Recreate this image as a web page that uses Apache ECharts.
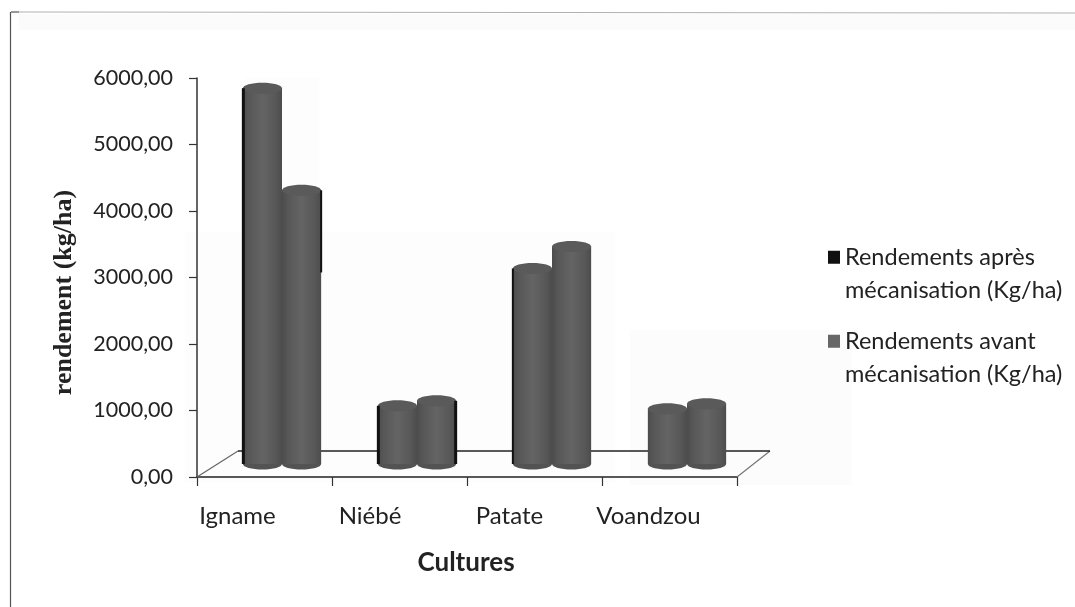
<!DOCTYPE html>
<html lang="fr">
<head>
<meta charset="utf-8">
<title>Rendements par culture</title>
<script src="https://cdn.jsdelivr.net/npm/echarts@6/dist/echarts.min.js"></script>
<style>html,body{margin:0;padding:0;background:#fff}#chart{width:1075px;height:607px}</style>
</head>
<body>
<div id="chart"></div>
<script>
// Yields per crop, in kg/ha
const cultures = ['Igname', 'Niébé', 'Patate', 'Voandzou'];
const rendementsApres = [5650, 875, 2940, 830];
const rendementsAvant = [4115, 950, 3270, 905];
const yTicks = [0, 1000, 2000, 3000, 4000, 5000, 6000];

const nomApres = 'Rendements après\nmécanisation (Kg/ha)';
const nomAvant = 'Rendements avant\nmécanisation (Kg/ha)';

// Horizontal nudge of each crop label under its band
const labelPadding = [[0, 54, 0, 0], [0, 59, 0, 0], [0, 50, 0, 0], [0, 42, 0, 0]];

// Dark side streaks on the cylinders: [left width, right width, visible share of height]
const streaksApres = [[3, 0, 1], [3, 0, 1], [2, 0, 1], [0, 0, 0]];
const streaksAvant = [[0, 2, 0.3], [0, 3, 1], [0, 0, 0], [0, 0, 0]];

// Depth shift of the 3D floor, with the bars standing on its middle line
const depth = { x: 41, y: -26 };
const barDepth = { x: 17.5, y: -13 };

function cylinder(side, streaks) {
  return function (params, api) {
    const i = api.value(0);
    const band = api.size([1, 0])[0];
    const w = band * 0.29;
    const base = api.coord([i, 0]);
    const top = api.coord([i, api.value(1)]);
    const cx = base[0] + barDepth.x + side * w / 2;
    const yb = base[1] + barDepth.y;
    const yt = top[1] + barDepth.y;
    const ry = 5.5;
    const fill = new echarts.graphic.LinearGradient(0, 0, 1, 0, [
      { offset: 0, color: '#4c4c4c' },
      { offset: 0.15, color: '#575757' },
      { offset: 0.5, color: '#646464' },
      { offset: 0.85, color: '#575757' },
      { offset: 1, color: '#4c4c4c' }
    ]);
    const children = [
      { type: 'ellipse', shape: { cx: cx, cy: yb, rx: w / 2, ry: ry }, style: { fill: '#535353' } },
      { type: 'rect', shape: { x: cx - w / 2, y: yt, width: w, height: yb - yt }, style: { fill: fill } },
      { type: 'ellipse', shape: { cx: cx, cy: yt, rx: w / 2, ry: ry }, style: { fill: '#5a5a5a' } }
    ];
    const s = streaks[i];
    if (s[0] > 0) {
      children.push({ type: 'rect', shape: { x: cx - w / 2 - 1, y: yt, width: s[0], height: (yb - yt) * s[2] }, style: { fill: '#111' } });
    }
    if (s[1] > 0) {
      children.push({ type: 'rect', shape: { x: cx + w / 2 - s[1] + 1, y: yt, width: s[1], height: (yb - yt) * s[2] }, style: { fill: '#111' } });
    }
    return { type: 'group', children: children };
  };
}

// Floor outline, taken from the plot rectangle
function floor(params, api) {
  const c = params.coordSys;
  const x0 = c.x, x1 = c.x + c.width, y = c.y + c.height;
  const back = y + depth.y;
  return {
    type: 'group',
    children: [
      { type: 'line', shape: { x1: x0, y1: y, x2: x0 + depth.x, y2: back }, style: { stroke: '#666', lineWidth: 1.2 } },
      { type: 'line', shape: { x1: x1, y1: y, x2: x1 + 33, y2: back }, style: { stroke: '#777', lineWidth: 1.2 } },
      { type: 'line', shape: { x1: x0 + depth.x, y1: back, x2: x1 + 33, y2: back }, style: { stroke: '#222', lineWidth: 1.6 } }
    ]
  };
}

const chart = echarts.init(document.getElementById('chart'), null, { renderer: 'canvas' });
chart.setOption({
  animation: false,
  backgroundColor: '#ffffff',
  textStyle: { fontFamily: 'Lato' },
  grid: { left: 197, right: 338, top: 78, bottom: 130, containLabel: false },
  graphic: [
    { type: 'rect', z: -1, shape: { x: 19, y: 14, width: 1056, height: 16 }, style: { fill: '#fbfbfb' } },
    { type: 'rect', z: -1, shape: { x: 630, y: 330, width: 222, height: 155 }, style: { fill: '#fcfcfc' } },
    { type: 'rect', z: -1, shape: { x: 185, y: 232, width: 430, height: 250 }, style: { fill: '#fdfdfd' } },
    { type: 'rect', z: -1, shape: { x: 245, y: 78, width: 74, height: 154 }, style: { fill: '#fdfdfd' } },
    { type: 'line', shape: { x1: 19, y1: 12, x2: 1075, y2: 13 }, style: { stroke: '#b0b0b0', lineWidth: 1.2 } },
    { type: 'line', shape: { x1: 11, y1: 12, x2: 19, y2: 12 }, style: { stroke: '#555', lineWidth: 1.2 } },
    { type: 'line', shape: { x1: 10.5, y1: 12, x2: 10.5, y2: 607 }, style: { stroke: '#555', lineWidth: 1.2 } }
  ],
  legend: {
    orient: 'vertical',
    left: 823,
    top: 202,
    itemWidth: 12,
    itemHeight: 13,
    itemGap: -16.5,
    icon: 'rect',
    data: [nomApres, nomAvant],
    formatter: n => '\n' + n,
    textStyle: { fontFamily: 'Lato', fontSize: 23.5, color: '#222', lineHeight: 33.5 }
  },
  xAxis: {
    type: 'category',
    data: cultures.map((c, i) => ({ value: c, textStyle: { padding: labelPadding[i] } })),
    name: 'Cultures',
    nameLocation: 'middle',
    nameGap: 73,
    nameTextStyle: { fontFamily: 'Lato', fontWeight: 'bold', fontSize: 26, color: '#222', padding: [0, 2, 0, 0] },
    axisLine: { show: true, lineStyle: { color: '#222', width: 1.5 } },
    axisTick: { show: true, alignWithLabel: false, length: 9, lineStyle: { color: '#333', width: 1.2 } },
    axisLabel: { fontSize: 24, color: '#222', margin: 27, interval: 0 }
  },
  yAxis: {
    type: 'value',
    min: yTicks[0],
    max: yTicks[yTicks.length - 1],
    interval: 1000,
    name: 'rendement (kg/ha)',
    nameLocation: 'middle',
    nameGap: 120,
    nameTextStyle: { fontFamily: 'Liberation Serif', fontWeight: 'bold', fontSize: 26, color: '#222', padding: [0, 30, 0, 0] },
    axisLine: { show: true, lineStyle: { color: '#333', width: 1.5 } },
    axisTick: { show: true, length: 8, lineStyle: { color: '#333', width: 1.2 } },
    splitLine: { show: false },
    axisLabel: { fontSize: 21.5, color: '#222', margin: 24, formatter: v => v.toFixed(2).replace('.', ',') }
  },
  series: [
    { type: 'custom', silent: true, z: 1, renderItem: floor, data: [[0, 0]], encode: { x: 0, y: 1 }, legendHoverLink: false },
    {
      type: 'custom', name: nomApres, z: 2, renderItem: cylinder(-1, streaksApres),
      itemStyle: { color: '#111111' }, encode: { x: 0, y: 1 },
      data: rendementsApres.map((v, i) => [i, v])
    },
    {
      type: 'custom', name: nomAvant, z: 3, renderItem: cylinder(1, streaksAvant),
      itemStyle: { color: '#666666' }, encode: { x: 0, y: 1 },
      data: rendementsAvant.map((v, i) => [i, v])
    }
  ]
});
</script>
</body>
</html>
